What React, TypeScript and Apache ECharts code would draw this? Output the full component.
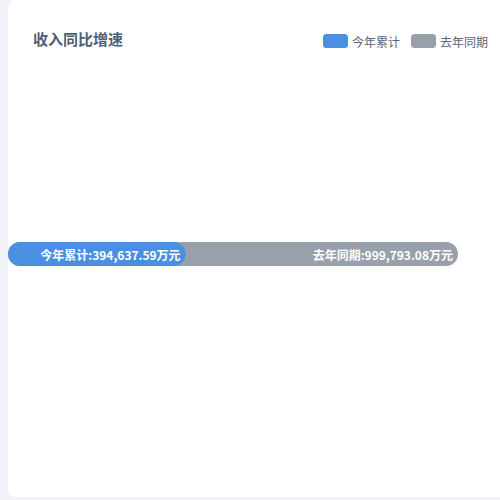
import React, { useEffect, useRef } from 'react';
import * as echarts from 'echarts';

const seriesNames = ['今年累计', '去年同期'];
const seriesColors = ['#4a90e2', '#98a1ab'];
const thisYear = [394637.59];
const lastYear = [999793.08];
const categories = ['收入'];

const fmt = (v: number) =>
  v.toLocaleString('en-US', { minimumFractionDigits: 2, maximumFractionDigits: 2 });

const App: React.FC = () => {
  const chartRef = useRef<HTMLDivElement>(null);

  useEffect(() => {
    if (!chartRef.current) return;
    const chart = echarts.init(chartRef.current, undefined, { renderer: 'svg' });

    const options: echarts.EChartsOption = {
      animation: false,
      textStyle: { fontFamily: '"Noto Sans CJK SC", "Noto Sans", sans-serif' },
      title: {
        text: '收入同比增速',
        left: 20,
        top: 26,
        textStyle: { fontSize: 15, fontWeight: 'bold', color: '#4e5d78' }
      },
      legend: {
        data: seriesNames,
        right: 7,
        top: 29,
        itemWidth: 25,
        itemHeight: 14,
        itemGap: 11,
        icon: 'roundRect',
        textStyle: { fontSize: 12, color: '#5a6478', padding: [0, 0, 0, -1] }
      },
      grid: { left: 0, right: 42, top: 230, height: 48 },
      xAxis: {
        type: 'value',
        min: 0,
        max: Math.max(...lastYear, ...thisYear),
        show: false
      },
      yAxis: { type: 'category', data: categories, show: false },
      series: [
        {
          name: '去年同期',
          type: 'bar',
          data: lastYear,
          barWidth: 24,
          z: 1,
          itemStyle: { color: seriesColors[1], borderRadius: 12 },
          label: {
            show: true,
            position: 'insideRight',
            color: '#fff',
            fontSize: 12,
            fontWeight: 'bold',
            formatter: (p: any) => `去年同期:${fmt(p.value)}万元`
          }
        },
        {
          name: '今年累计',
          type: 'bar',
          data: thisYear,
          barWidth: 24,
          barGap: '-100%',
          z: 2,
          itemStyle: { color: seriesColors[0], borderRadius: 12 },
          label: {
            show: true,
            position: 'insideRight',
            color: '#fff',
            fontSize: 12,
            fontWeight: 'bold',
            formatter: (p: any) => `今年累计:${fmt(p.value)}万元`
          }
        }
      ]
    };

    chart.setOption(options);
    return () => chart.dispose();
  }, []);

  return (
    <div
      style={{
        position: 'fixed',
        left: 0,
        top: 0,
        width: 500,
        height: 500,
        background: '#f2f3f8'
      }}
    >
      <div
        style={{
          position: 'absolute',
          left: 8,
          top: 0,
          width: 500,
          height: 497,
          background: '#fff',
          borderRadius: 8,
          overflow: 'hidden'
        }}
      >
        <div ref={chartRef} style={{ width: 492, height: 497 }} />
      </div>
    </div>
  );
};

export default App;
